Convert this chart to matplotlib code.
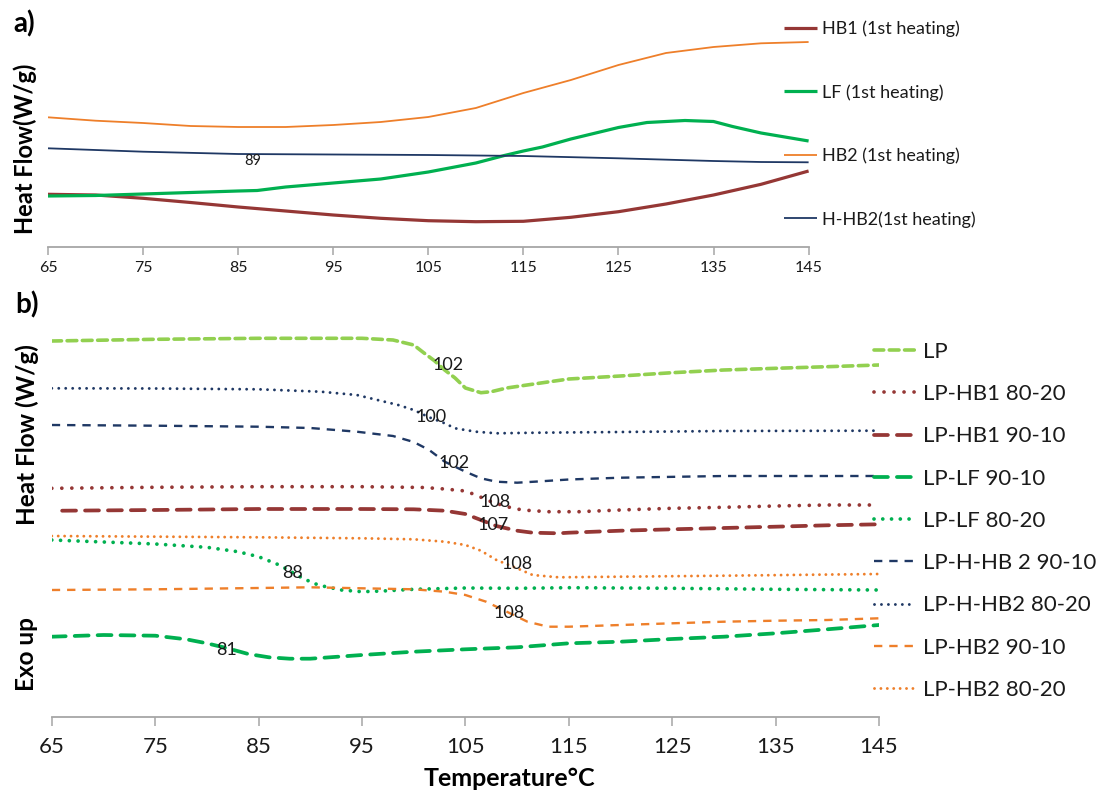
import matplotlib
matplotlib.use("Agg")
import matplotlib.pyplot as plt

# ---------------- data (relative heat flow, arbitrary offset units) ----------------
# panel a) 1st heating
t_hb1 = [65, 70, 75, 80, 85, 90, 95, 100, 105, 110, 115, 120, 125, 130, 135, 140, 145]
hf_hb1 = [52.7, 52, 48.7, 44.5, 40, 36, 32, 28.7, 26.3, 25.3, 25.7, 29.7, 35.3, 43, 52, 62.7, 76]

t_lf = [65, 70, 75, 80, 85, 87, 90, 95, 100, 105, 110, 113, 115, 117, 120, 125, 128, 130, 132, 135, 137, 140, 145]
hf_lf = [51, 51.5, 53, 54.5, 56, 56.5, 60, 64, 68, 75, 84, 91.5, 96, 100, 108, 119.5, 124.5, 125.5, 126.5, 125.5, 120.5, 114, 106]

t_hb2 = [65, 70, 75, 80, 85, 90, 95, 100, 105, 110, 115, 120, 125, 130, 135, 140, 145]
hf_hb2 = [129.7, 126.3, 124, 121, 120, 120, 122, 125, 130, 139, 154, 167, 182, 194, 200, 203.7, 205]

t_hhb2 = [65, 75, 85, 95, 105, 115, 125, 135, 140, 145]
hf_hhb2 = [98.7, 95.3, 93, 92.5, 92, 91, 88.7, 86, 85, 84.7]

labels_a = ["HB1 (1st heating)", "LF (1st heating)", "HB2 (1st heating)", "H-HB2(1st heating)"]

# panel b) blends
t_lp = [65, 75, 85, 95, 98, 100, 101, 102, 103, 104, 105, 106.5, 107.5, 109, 110.5, 112.5, 115, 120, 125, 130, 135, 140, 145]
hf_lp = [376, 377.7, 378.7, 378.7, 377, 372, 364, 356.3, 347, 339, 329, 324.3, 325.3, 329, 331.3, 334.3, 338, 341, 344.3, 347, 348.7, 350.3, 352]

t_hb1_8020 = [65, 75, 85, 95, 101, 103, 105, 106, 107.5, 109, 110.5, 113, 116, 120, 125, 130, 135, 140, 145]
hf_hb1_8020 = [228.7, 229.7, 230.3, 230.3, 229.5, 228, 226, 222, 215.3, 210.3, 207, 205.3, 205.3, 207, 208.7, 209.7, 211, 212, 212]

t_hb1_9010 = [66, 75, 85, 95, 100, 103, 105, 106.5, 108, 110, 111.5, 114, 115, 120, 125, 130, 135, 140, 145]
hf_hb1_9010 = [206.3, 207, 208, 208, 207.7, 206.3, 203, 197, 191, 186.3, 184.3, 183.7, 184.3, 186.3, 187.7, 189, 190.3, 191.7, 192.7]

t_lf_9010 = [65, 70, 75, 78, 80, 82, 84, 86, 88, 90, 95, 100, 105, 110, 115, 120, 125, 130, 135, 140, 145]
hf_lf_9010 = [80.3, 82, 81.3, 77.7, 73.7, 68.7, 63, 59.7, 58.3, 58.3, 62, 65.3, 67.7, 69.7, 73.7, 75.3, 78, 80.3, 83.7, 87.7, 92]

t_lf_8020 = [65, 75, 80, 83, 85, 87, 89, 90.3, 91.2, 93, 95, 97, 100, 105, 110, 115, 125, 135, 145]
hf_lf_8020 = [177, 173, 169.7, 165.3, 160.3, 152, 140.3, 133.7, 131, 127, 125.3, 126, 127.7, 129, 128.7, 129.3, 128.7, 127.7, 127]

t_hhb2_9010 = [65, 75, 85, 90, 94.5, 98, 100, 101.5, 103, 105, 106.5, 108, 110, 112, 115, 120, 130, 145]
hf_hhb2_9010 = [292, 291.3, 290.3, 289, 285.3, 281, 275, 267, 255.3, 245.3, 238.7, 235.3, 234.3, 235.5, 237.5, 239.3, 241, 241]

t_hhb2_8020 = [65, 75, 85, 91, 94.5, 96.5, 98.5, 100, 101.5, 103, 104, 106, 108, 112, 120, 130, 145]
hf_hhb2_8020 = [328.7, 328.5, 327.7, 325.3, 322, 317, 312, 307, 299.7, 293.7, 288.7, 285.3, 283.7, 284.3, 285, 286, 286.3]

t_hb2_9010 = [65, 75, 85, 90, 95, 100, 103, 105, 107, 109, 111, 113, 115, 120, 125, 130, 135, 140, 145]
hf_hb2_9010 = [127, 127.7, 129, 129.7, 128.7, 127.7, 125.3, 122, 115.3, 105.3, 95.3, 90.3, 90.3, 92, 93.7, 95.3, 96.3, 97, 98.7]

t_hb2_8020 = [65, 85, 95, 100, 103, 105, 106.5, 108, 110, 111.5, 114, 120, 130, 145]
hf_hb2_8020 = [181, 179.7, 178.7, 177.7, 175.3, 172, 166.3, 157, 148.7, 142, 139.7, 140.3, 141.3, 143]

labels_b = ["LP", "LP-HB1 80-20", "LP-HB1 90-10", "LP-LF 90-10", "LP-LF 80-20",
            "LP-H-HB 2 90-10", "LP-H-HB2 80-20", "LP-HB2 90-10", "LP-HB2 80-20"]

# peak annotations: (temperature, heat flow, text)
peaks_a = [(86.5, 86, "89")]
peaks_b = [(103.3, 352, "102"), (101.7, 300, "100"), (103.9, 254.3, "102"),
           (107.9, 215.3, "108"), (107.7, 192, "107"), (110.0, 153, "108"),
           (88.3, 143.7, "88"), (109.2, 103.7, "108"), (81.9, 67, "81")]

temp_ticks = [65, 75, 85, 95, 105, 115, 125, 135, 145]

# ---------------- style ----------------
plt.rcParams["font.family"] = ["Lato", "DejaVu Sans"]
plt.rcParams["lines.scale_dashes"] = False

RED = "#953735"
GREEN = "#00B050"
LGREEN = "#92D050"
ORANGE = "#EE7F2A"
NAVY = "#1F3864"
AXIS_GRAY = "#A6A6A6"
TXT = "#1A1A1A"

fig = plt.figure(figsize=(11.04, 7.94), dpi=100)


def setup_axis(ax, tick_size, tick_len, pad):
    for side in ("top", "right", "left"):
        ax.spines[side].set_visible(False)
    ax.spines["bottom"].set_color(AXIS_GRAY)
    ax.spines["bottom"].set_linewidth(1.3)
    ax.set_yticks([])
    ax.set_xlim(65, 145)
    ax.set_xticks(temp_ticks)
    ax.tick_params(axis="x", direction="out", length=tick_len, width=1.1,
                   color=AXIS_GRAY, labelsize=tick_size, labelcolor=TXT, pad=pad)
    ax.patch.set_alpha(0)


# ---- panel a ----
ax_a = fig.add_axes([48 / 1104, 1 - 247 / 794, (808.6 - 48) / 1104, 237 / 794])
setup_axis(ax_a, 11.5, 5.8, 4)
ax_a.set_ylim(0, 237)
l1, = ax_a.plot(t_hb1, hf_hb1, color=RED, lw=2.3, solid_capstyle="butt")
l2, = ax_a.plot(t_lf, hf_lf, color=GREEN, lw=2.3, solid_capstyle="butt")
l3, = ax_a.plot(t_hb2, hf_hb2, color=ORANGE, lw=1.3, solid_capstyle="butt")
l4, = ax_a.plot(t_hhb2, hf_hhb2, color=NAVY, lw=1.3, solid_capstyle="butt")
for t, v, s in peaks_a:
    ax_a.text(t, v, s, fontsize=10.5, color=TXT, ha="center", va="center")

fig.legend([l1, l2, l3, l4], labels_a, loc="upper left",
           bbox_to_anchor=(784 / 1104, 1 - 20.5 / 794), bbox_transform=fig.transFigure,
           frameon=False, fontsize=13, handlelength=1.85, handletextpad=0.25,
           labelspacing=2.6, borderpad=0, borderaxespad=0, labelcolor=TXT)

fig.text(24 / 1104, 1 - 24 / 794, "a)", fontsize=20, fontweight="bold",
         ha="center", va="center", color="black")
fig.text(25 / 1104, 1 - 149 / 794, "Heat Flow(W/g)", fontsize=17, fontweight="bold",
         rotation=90, ha="center", va="center", color="black")

# ---- panel b ----
ax_b = fig.add_axes([51.8 / 1104, 1 - 717 / 794, (879 - 51.8) / 1104, 397 / 794])
setup_axis(ax_b, 16, 6.5, 8)
ax_b.set_ylim(0, 397)

b_lines = []
b_lines.append(ax_b.plot(t_lp, hf_lp, color=LGREEN, lw=2.6, dashes=(7, 4),
                         dash_capstyle="round")[0])
b_lines.append(ax_b.plot(t_hb1_8020, hf_hb1_8020, color=RED, lw=2.7, dashes=(0.01, 7.2),
                         dash_capstyle="round")[0])
b_lines.append(ax_b.plot(t_hb1_9010, hf_hb1_9010, color=RED, lw=2.7, dashes=(10, 6.5),
                         dash_capstyle="round")[0])
b_lines.append(ax_b.plot(t_lf_9010, hf_lf_9010, color=GREEN, lw=2.7, dashes=(10, 6.5),
                         dash_capstyle="round")[0])
b_lines.append(ax_b.plot(t_lf_8020, hf_lf_8020, color=GREEN, lw=2.7, dashes=(0.01, 6.3),
                         dash_capstyle="round")[0])
b_lines.append(ax_b.plot(t_hhb2_9010, hf_hhb2_9010, color=NAVY, lw=1.7, dashes=(6, 5),
                         dash_capstyle="butt")[0])
b_lines.append(ax_b.plot(t_hhb2_8020, hf_hhb2_8020, color=NAVY, lw=2.1, dashes=(0.01, 5),
                         dash_capstyle="round")[0])
b_lines.append(ax_b.plot(t_hb2_9010, hf_hb2_9010, color=ORANGE, lw=1.7, dashes=(6, 5),
                         dash_capstyle="butt")[0])
b_lines.append(ax_b.plot(t_hb2_8020, hf_hb2_8020, color=ORANGE, lw=2.1, dashes=(0.01, 4.6),
                         dash_capstyle="round")[0])

for t, v, s in peaks_b:
    ax_b.text(t, v, s, fontsize=13, color=TXT, ha="center", va="center")

fig.legend(b_lines, labels_b, loc="upper left",
           bbox_to_anchor=(874 / 1104, 1 - 342 / 794), bbox_transform=fig.transFigure,
           frameon=False, fontsize=16, handlelength=1.85, handletextpad=0.35,
           labelspacing=1.0, borderpad=0, borderaxespad=0, labelcolor=TXT)

fig.text(27 / 1104, 1 - 305 / 794, "b)", fontsize=20, fontweight="bold",
         ha="center", va="center", color="black")
fig.text(27 / 1104, 1 - 435 / 794, "Heat Flow (W/g)", fontsize=17.5, fontweight="bold",
         rotation=90, ha="center", va="center", color="black")
fig.text(27 / 1104, 1 - 654 / 794, "Exo up", fontsize=17.5, fontweight="bold",
         rotation=90, ha="center", va="center", color="black")
fig.text(509 / 1104, 1 - 778 / 794, "Temperature\u00b0C", fontsize=18, fontweight="bold",
         ha="center", va="center", color="black")

fig.savefig("out.png", dpi=100)
